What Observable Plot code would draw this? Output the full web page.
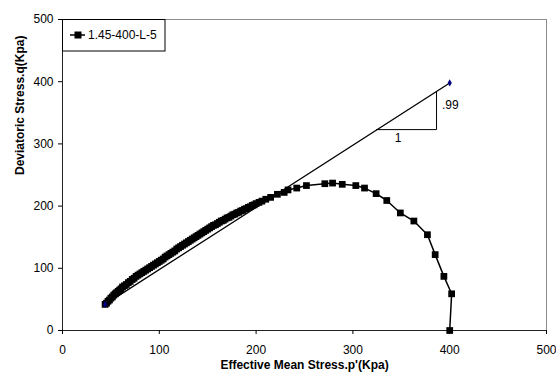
<!DOCTYPE html>
<html><head><meta charset="utf-8">
<script src="https://cdn.jsdelivr.net/npm/d3@7"></script>
<script src="https://cdn.jsdelivr.net/npm/@observablehq/plot@0.6"></script>
<style>body{margin:0;background:#fff} #chart{width:556px;height:376px}</style>
</head><body><div id="chart"></div>
<script>
const seriesName = "1.45-400-L-5";
const xTitle = "Effective Mean Stress.p'(Kpa)";
const yTitle = "Deviatoric Stress.q(Kpa)";
const xTicks = [0, 100, 200, 300, 400, 500];
const yTicks = [0, 100, 200, 300, 400, 500];

// test path [p' (Kpa), q (Kpa)], in test order
const testPath = [
  [400, 0], [402, 59], [394, 87], [385, 122], [377, 154], [363, 176], [349, 189], [335, 209], [324, 220],
  [312, 229], [303, 233], [289, 235], [279, 237], [271, 236], [252, 233], [242, 229], [233, 226], [229, 222],
  [222, 219], [215, 214], [210, 211], [206, 208], [203, 206], [200, 204], [198, 202], [196, 201], [194, 199],
  [192, 198], [190, 196], [188, 195], [186, 193], [184, 192], [182, 190], [180, 189], [178, 187], [176, 186],
  [174, 184], [172, 182], [170, 181], [168, 179], [166, 177], [164, 176], [162, 174], [160, 172], [158, 170],
  [156, 169], [154, 167], [152, 165], [150, 163], [148, 161], [146, 159], [144, 157], [142, 155], [140, 153],
  [138, 151], [136, 149], [134, 147], [132, 145], [130, 143], [128, 141], [126, 139], [124, 137], [122, 135],
  [120, 133], [118, 131], [116, 128], [114, 126], [112, 124], [110, 122], [108, 120], [106, 118], [104, 115],
  [102, 113], [100, 111], [98, 109], [96, 107], [94, 105], [92, 103], [90, 101], [88, 99], [86, 97],
  [84, 95], [82, 93], [80, 91], [78, 89], [76, 87], [74, 84], [72, 82], [70, 79], [68, 77], [66, 74],
  [64, 72], [62, 70], [60.5, 67], [59, 65], [57.5, 63], [56, 61], [54.5, 59], [53, 57], [51.5, 54],
  [50, 52], [48.5, 49], [47, 47], [45.5, 44], [44, 42]
];

// slope line and slope triangle
const slopeP = [44, 400];
const slopeQ = [42, 398];
const triP = [324.4, 386.4, 386.4];
const triQ = [323, 323, 384];
const labelText = [".99", "1"];
const labelP = [392, 346.8];
const labelQ = [362, 309];
const labelAnchor = ["start", "middle"];

const curve = testPath.map(([p, q]) => ({p, q}));
const slope = slopeP.map((p, i) => ({p, q: slopeQ[i]}));
const tri = triP.map((p, i) => ({p, q: triQ[i]}));
const labels = labelText.map((t, i) => ({t, p: labelP[i], q: labelQ[i], a: labelAnchor[i]}));

const font = "'Liberation Sans', Arial, sans-serif";
const plot = Plot.plot({
  width: 556, height: 376,
  marginLeft: 62, marginRight: 10, marginTop: 19, marginBottom: 46,
  style: {fontFamily: font, fontSize: "12px", color: "#000", background: "#fff", overflow: "visible"},
  x: {domain: [0, 500]},
  y: {domain: [0, 500]},
  marks: [
    Plot.frame({stroke: "#8c8c8c"}),
    Plot.ruleX([0], {stroke: "#222"}),
    Plot.ruleY([0], {stroke: "#222"}),
    Plot.line(slope, {x: "p", y: "q", stroke: "#000", strokeWidth: 1.3}),
    Plot.line(tri, {x: "p", y: "q", stroke: "#000", strokeWidth: 1}),
    Plot.text(labels.filter(d => d.a === "start"), {x: "p", y: "q", text: "t", textAnchor: "start", fontSize: 12, fill: "#000"}),
    Plot.text(labels.filter(d => d.a === "middle"), {x: "p", y: "q", text: "t", textAnchor: "middle", fontSize: 12, fill: "#000"}),
    Plot.line(curve, {x: "p", y: "q", stroke: "#000", strokeWidth: 1.5}),
    Plot.dot(curve, {x: "p", y: "q", symbol: "square", r: 3.8, fill: "#000", stroke: "none"}),
    Plot.dot(slope, {x: "p", y: "q", symbol: "diamond", r: 2.2, fill: "#000080", stroke: "none"}),
    Plot.axisX({ticks: xTicks, tickSize: 4, tickPadding: 11, label: null, fontSize: 12}),
    Plot.axisY({ticks: yTicks, tickSize: 4, tickPadding: 5, label: null, fontSize: 12}),
    Plot.text([xTitle], {frameAnchor: "bottom", dy: 35, lineAnchor: "middle", fontWeight: "bold", fontSize: 12, fill: "#000"}),
    Plot.text([yTitle], {frameAnchor: "left", dx: -42, rotate: -90, lineAnchor: "middle", fontWeight: "bold", fontSize: 12, fill: "#000"})
  ]
});
document.getElementById("chart").appendChild(plot);

// legend box in the upper-left corner of the plot area
const svg = d3.select(plot);
const g = svg.append("g").attr("font-family", font).attr("font-size", 12).attr("text-anchor", "start");
g.append("rect").attr("x", 62.5).attr("y", 19.5).attr("width", 102.5).attr("height", 31.5)
  .attr("fill", "#fff").attr("stroke", "#000");
g.append("line").attr("x1", 70).attr("x2", 85).attr("y1", 35).attr("y2", 35).attr("stroke", "#000").attr("stroke-width", 1.5);
g.append("rect").attr("x", 74.5).attr("y", 31.5).attr("width", 7).attr("height", 7).attr("fill", "#000");
g.append("text").attr("x", 88).attr("y", 35).attr("dy", "0.35em").attr("fill", "#000").text(seriesName);
</script></body></html>
